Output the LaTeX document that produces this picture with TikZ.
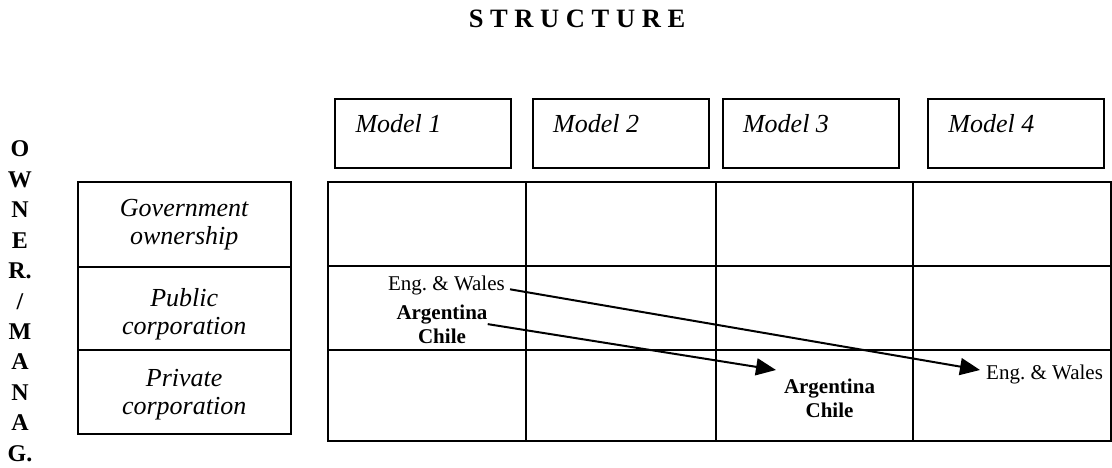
\documentclass[tikz,border=0pt]{standalone}
\usepackage{fontspec}
\setmainfont{Liberation Serif}
\usetikzlibrary{arrows.meta,calc}
\begin{document}
\frenchspacing
\begin{tikzpicture}[x=1pt,y=-1pt,
  frame/.style={draw, line width=2pt},
  modelbox/.style={draw, line width=2pt, minimum width=176pt, minimum height=69pt, inner sep=0pt},
  modeltext/.style={anchor=base west, inner sep=0pt, font=\fontsize{26}{28}\selectfont\itshape},
  rowlabel/.style={anchor=base, align=center, inner sep=0pt, font=\fontsize{26}{28}\selectfont\itshape},
  letter/.style={anchor=base, inner sep=0pt, font=\fontsize{24}{24}\selectfont\bfseries},
  place/.style={inner sep=0pt, font=\fontsize{21}{24}\selectfont},
  boldplace/.style={place, align=center, font=\fontsize{21}{24}\selectfont\bfseries},
  move/.style={line width=2pt, -{Triangle[length=20pt,width=17pt]}}]
\useasboundingbox (0,0) rectangle (1112,468);

% title
\node[anchor=base, inner sep=0pt, font=\fontsize{26.5}{28}\selectfont\bfseries] (title) at (577,28) {S T R U C T U R E};

% vertical axis caption
\foreach \ch [count=\i from 0] in {O,W,N,E,R.,/,M,A,N,A,G.}
  \node[letter] (ax\i) at (20,157+30.4*\i) {\ch};

% model headers
\node[modelbox] (m1) at (423.3,133.8) {};
\node[modelbox] (m2) at (621,133.8) {};
\node[modelbox] (m3) at (810.85,133.8) {};
\node[modelbox] (m4) at (1016.15,133.8) {};
\foreach \k in {1,...,4}
  \node[modeltext] (m\k t) at ($(m\k.north west)+(21,34.7)$) {Model \k};

% ownership rows (base anchor sits on the last line)
\draw[frame] (77.7,182.3) rectangle (290.7,434);
\draw[frame] (77.7,266.7) -- (290.7,266.7);
\draw[frame] (77.7,350) -- (290.7,350);
\node[rowlabel] (gov) at (184.2,244) {Government\\ownership};
\node[rowlabel] (pub) at (184.2,334) {Public\\corporation};
\node[rowlabel] (pri) at (184.2,414.5) {Private\\corporation};

% main grid
\draw[frame] (328,182) rectangle (1110.7,441);
\draw[frame] (328,266.3) -- (1110.7,266.3);
\draw[frame] (328,350) -- (1110.7,350);
\foreach \x in {525.7,716,913.3}
  \draw[frame] (\x,182) -- (\x,441);

% entries
\node[place, anchor=base east] (ew1) at (505,290.7) {Eng. \& Wales};
\node[boldplace, anchor=base] (ac1) at (442,343.3) {Argentina\\Chile};
\node[boldplace, anchor=base] (ac2) at (829.5,417) {Argentina\\Chile};
\node[place, anchor=base west] (ew2) at (986,379) {Eng. \& Wales};

% transitions
\draw[move] ($(ew1.base east)+(5,-1.4)$) -- ($(ew2.base west)+(-6,-9)$);
\draw[move] (ac1.east) -- ($(ac2.base)+(-53.5,-47)$);
\end{tikzpicture}
\end{document}
